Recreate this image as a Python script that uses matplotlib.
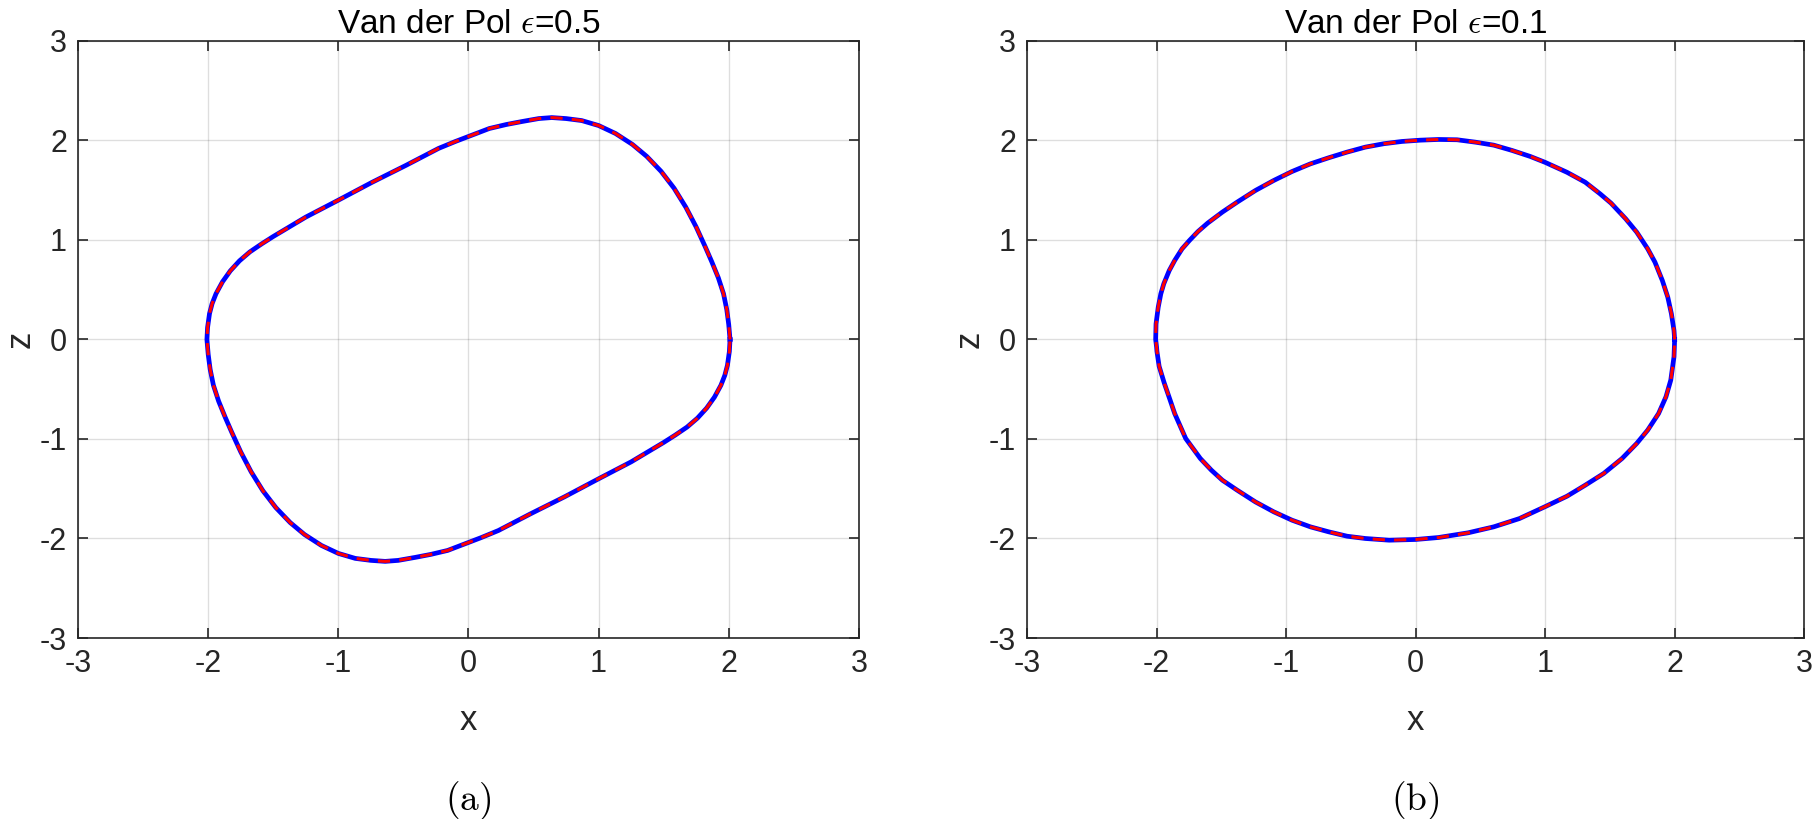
import numpy as np
import matplotlib
matplotlib.use('Agg')
from matplotlib import pyplot as plt

plt.rcParams['font.family'] = ['Liberation Sans', 'DejaVu Sans']
plt.rcParams['mathtext.fontset'] = 'cm'
plt.rcParams['axes.unicode_minus'] = False

# limit cycle, eps = 0.5  (x, z)
x_a = [2.01, 2.00, 1.985, 1.96, 1.92, 1.87, 1.82, 1.75, 1.67, 1.58, 1.48, 1.37,
       1.26, 1.13, 1.00, 0.87, 0.75, 0.64, 0.54, 0.41, 0.29, 0.16, 0.00, -0.10,
       -0.23, -0.48, -0.74, -1.00, -1.25, -1.50, -1.59, -1.68, -1.76, -1.83,
       -1.89, -1.94, -1.97, -1.99, -2.005, -2.01,
       -2.00, -1.985, -1.96, -1.92, -1.87, -1.82, -1.75, -1.67, -1.58, -1.48,
       -1.37, -1.26, -1.13, -1.00, -0.87, -0.75, -0.64, -0.54, -0.41, -0.29,
       -0.16, 0.00, 0.10, 0.23, 0.48, 0.74, 1.00, 1.25, 1.50, 1.59, 1.68, 1.76,
       1.83, 1.89, 1.94, 1.97, 1.99, 2.005, 2.01]
z_a = [0.00, 0.15, 0.30, 0.46, 0.62, 0.78, 0.93, 1.13, 1.33, 1.52, 1.69, 1.84,
       1.96, 2.07, 2.15, 2.20, 2.22, 2.23, 2.22, 2.19, 2.16, 2.12, 2.04, 1.99,
       1.92, 1.75, 1.58, 1.40, 1.23, 1.035, 0.96, 0.88, 0.79, 0.69,
       0.58, 0.46, 0.36, 0.26, 0.12, 0.00,
       -0.15, -0.30, -0.46, -0.62, -0.78, -0.93, -1.13, -1.33, -1.52, -1.69,
       -1.84, -1.96, -2.07, -2.15, -2.20, -2.22, -2.23, -2.22, -2.19, -2.16,
       -2.12, -2.04, -1.99, -1.92, -1.75, -1.58, -1.40, -1.23, -1.035, -0.96, -0.88, -0.79,
       -0.69, -0.58, -0.46, -0.36, -0.26, -0.12, 0.00]

# eps = 0.1
x_b = [2.00, 1.995, 1.975, 1.947, 1.905, 1.848, 1.792, 1.707, 1.622, 1.509,
       1.424, 1.31, 1.169, 1.00, 0.886, 0.744, 0.603, 0.461, 0.32, 0.178, 0.037,
       -0.105, -0.246, -0.388, -0.529, -0.671, -0.812, -0.954, -1.095, -1.237,
       -1.378, -1.492, -1.605, -1.68, -1.746, -1.803, -1.86, -1.902, -1.944,
       -1.967, -1.987, -2.004, -2.007,
       -2.00, -1.997, -1.98, -1.94, -1.895, -1.86, -1.775, -1.662, -1.577,
       -1.492, -1.378, -1.237, -1.095, -0.954, -0.812, -0.671, -0.529, -0.388,
       -0.204, 0.00, 0.178, 0.405, 0.603, 0.801, 1.00, 1.169, 1.31, 1.452,
       1.594, 1.707, 1.792, 1.876, 1.933, 1.97, 1.995, 2.00]
z_b = [0.00, 0.09, 0.258, 0.425, 0.593, 0.777, 0.911, 1.079, 1.213, 1.37,
       1.464, 1.58, 1.68, 1.78, 1.839, 1.90, 1.953, 1.983, 2.007, 2.01, 2.003,
       1.99, 1.967, 1.933, 1.883, 1.826, 1.765, 1.688, 1.598, 1.497,
       1.38, 1.28, 1.17, 1.085, 0.995, 0.911, 0.794, 0.693, 0.56,
       0.459, 0.325, 0.157, 0.00,
       -0.074, -0.12, -0.27, -0.44, -0.61, -0.744, -0.995, -1.196, -1.313,
       -1.414, -1.514, -1.632, -1.732, -1.816, -1.883, -1.933, -1.977, -2.00,
       -2.017, -2.01, -1.99, -1.943, -1.883, -1.80, -1.68, -1.575, -1.464, -1.347,
       -1.196, -1.045, -0.911, -0.744, -0.576, -0.409, -0.174, 0.00]

ticks = [-3, -2, -1, 0, 1, 2, 3]
titles = [r'Van der Pol $\epsilon$=0.5', r'Van der Pol $\epsilon$=0.1']
captions = [r'$\mathrm{(a)}$', r'$\mathrm{(b)}$']

fig = plt.figure(figsize=(18.2, 8.19), dpi=100)
ax1 = fig.add_axes([0.0429, 0.221, 0.429, 0.729])
ax2 = fig.add_axes([0.5643, 0.221, 0.427, 0.729])

for ax, xs, zs, t, cap in [(ax1, x_a, z_a, titles[0], captions[0]),
                           (ax2, x_b, z_b, titles[1], captions[1])]:
    ax.plot(xs, zs, color='b', lw=3.4, solid_joinstyle='round')
    ax.plot(xs, zs, color='r', lw=2.2, ls=(0, (4, 3)))
    ax.set_xlim(-3, 3)
    ax.set_ylim(-3, 3)
    ax.set_xticks(ticks)
    ax.set_yticks(ticks)
    ax.grid(True, color='k', alpha=0.13, lw=1.0)
    ax.tick_params(direction='in', length=7, width=1.2, top=True, right=True,
                   labelsize=22, colors='#262626', pad=8)
    for s in ax.spines.values():
        s.set_color('#262626')
        s.set_linewidth(1.2)
    ax.set_title(t, fontsize=24, color='k', pad=6)
    ax.set_xlabel('x', fontsize=25, color='#262626', labelpad=18)
    ax.set_ylabel('z', fontsize=25, color='#262626', labelpad=2)
    ax.text(0.5, -0.272, cap, transform=ax.transAxes, ha='center', va='center',
            fontsize=27)

fig.savefig('out.png', dpi=100)
